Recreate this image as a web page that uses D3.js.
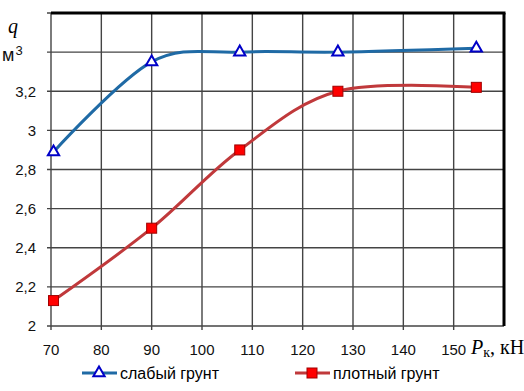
<!DOCTYPE html>
<html><head><meta charset="utf-8">
<script src="https://cdn.jsdelivr.net/npm/d3@7"></script>
<style>body{margin:0;background:#fff}svg{display:block}</style>
</head><body>
<svg id="c" width="524" height="391"></svg>
<script>
const xTicks = [70, 80, 90, 100, 110, 120, 130, 140, 150];
const yTicks = [2, 2.2, 2.4, 2.6, 2.8, 3, 3.2, 3.4, 3.6];
const yTickLabels = ["2", "2,2", "2,4", "2,6", "2,8", "3", "3,2", "", ""];
const weakX = [70.5, 90, 107.5, 127, 154.5];
const weakY = [2.89, 3.35, 3.40, 3.40, 3.42];
const denseX = [70.5, 90, 107.5, 127, 154.5];
const denseY = [2.13, 2.50, 2.90, 3.20, 3.22];
const seriesNames = ["слабый грунт", "плотный грунт"];

const svg = d3.select("#c");
const L = 51, R = 504, T = 13, B = 326;
const x = d3.scaleLinear().domain([70, 160]).range([L, R]);
const y = d3.scaleLinear().domain([2, 3.6]).range([B, T]);
const font = "'Liberation Sans', Arial, sans-serif";

// grid
const g = svg.append("g");
g.selectAll(".hg").data(yTicks).enter().append("line")
  .attr("x1", L - 4).attr("x2", R).attr("y1", d => y(d)).attr("y2", d => y(d))
  .attr("stroke", "#444").attr("stroke-width", 1.4);
g.selectAll(".vg").data(xTicks).enter().append("line")
  .attr("x1", d => x(d)).attr("x2", d => x(d)).attr("y1", T).attr("y2", B + 4)
  .attr("stroke", "#444").attr("stroke-width", 1.4);
// frame top/right thick
svg.append("line").attr("x1", L).attr("x2", R + 1.5).attr("y1", T).attr("y2", T).attr("stroke", "#000").attr("stroke-width", 3);
svg.append("line").attr("x1", R).attr("x2", R).attr("y1", T).attr("y2", B).attr("stroke", "#000").attr("stroke-width", 3);

// axis labels
svg.selectAll(".yl").data(yTicks).enter().append("text")
  .attr("x", 36).attr("y", d => y(d)).attr("dy", "0.35em")
  .attr("text-anchor", "end").attr("font-family", font).attr("font-size", 15)
  .attr("fill", "#111").text((d, i) => yTickLabels[i]);
const unit = svg.append("text").attr("x", 2).attr("y", 61).attr("font-family", font).attr("font-size", 18).attr("fill", "#111");
unit.append("tspan").text("м");
unit.append("tspan").attr("font-size", 13).attr("dx", 1).attr("dy", -6).text("3");
svg.append("text").attr("x", 8).attr("y", 33).attr("font-family", "'Liberation Serif', serif")
  .attr("font-style", "italic").attr("font-size", 20).text("q");
svg.selectAll(".xl").data(xTicks).enter().append("text")
  .attr("x", d => x(d)).attr("y", 350).attr("dy", "0.35em")
  .attr("text-anchor", "middle").attr("font-family", font).attr("font-size", 15)
  .attr("fill", "#111").text(d => d);
const pt = svg.append("text").attr("x", 471).attr("y", 354).attr("font-family", "'Liberation Serif', serif").attr("font-size", 20);
pt.append("tspan").attr("font-style", "italic").text("P");
pt.append("tspan").attr("font-size", 14).attr("dy", 3).text("к");
pt.append("tspan").attr("dy", -3).text(", кН");

// lines
const curve = d3.curveCardinal.tension(0);
const line = d3.line().x(d => x(d[0])).y(d => y(d[1])).curve(curve);
const weak = weakX.map((v, i) => [v, weakY[i]]);
const dense = denseX.map((v, i) => [v, denseY[i]]);
svg.append("path").attr("d", line(weak)).attr("fill", "none").attr("stroke", "#1f6aa5").attr("stroke-width", 3);
svg.append("path").attr("d", line(dense)).attr("fill", "none").attr("stroke", "#c0393b").attr("stroke-width", 3);
const tri = d3.symbol().type(d3.symbolTriangle).size(55);
svg.selectAll(".tm").data(weak).enter().append("path")
  .attr("d", tri).attr("transform", d => `translate(${x(d[0])},${y(d[1])})`)
  .attr("fill", "#fff").attr("stroke", "#0000c8").attr("stroke-width", 2);
svg.selectAll(".sm").data(dense).enter().append("rect")
  .attr("x", d => x(d[0]) - 5).attr("y", d => y(d[1]) - 5).attr("width", 10).attr("height", 10)
  .attr("fill", "#ff0000").attr("stroke", "#a00000").attr("stroke-width", 1);

// legend
const lg = svg.append("g");
const ly = 373;
lg.append("line").attr("x1", 82).attr("x2", 117).attr("y1", ly).attr("y2", ly).attr("stroke", "#1f6aa5").attr("stroke-width", 3);
lg.append("path").attr("d", tri).attr("transform", `translate(99,${ly})`).attr("fill", "#fff").attr("stroke", "#0000c8").attr("stroke-width", 2);
lg.append("text").attr("x", 120).attr("y", ly).attr("dy", "0.35em").attr("font-family", font).attr("font-size", 16).text(seriesNames[0]);
lg.append("line").attr("x1", 295).attr("x2", 330).attr("y1", ly).attr("y2", ly).attr("stroke", "#c0393b").attr("stroke-width", 3);
lg.append("rect").attr("x", 307).attr("y", ly - 5).attr("width", 10).attr("height", 10).attr("fill", "#ff0000").attr("stroke", "#a00000");
lg.append("text").attr("x", 333).attr("y", ly).attr("dy", "0.35em").attr("font-family", font).attr("font-size", 16).text(seriesNames[1]);
</script>
</body></html>
